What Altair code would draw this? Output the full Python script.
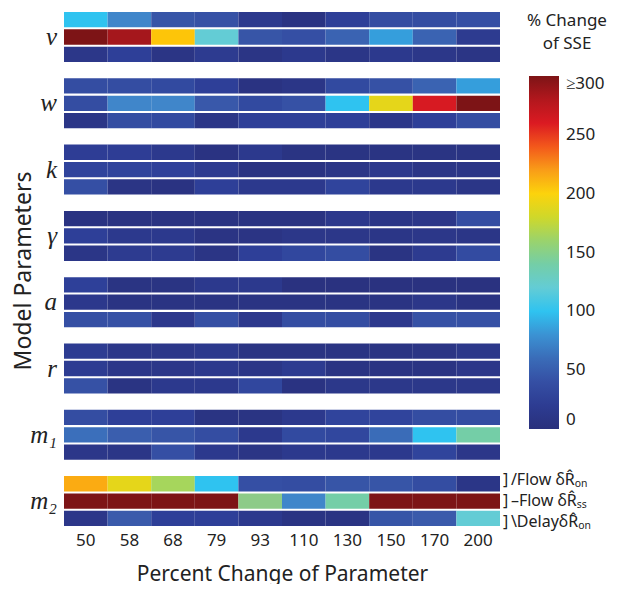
import altair as alt
import pandas as pd

params = ["v", "w", "k", "γ", "a", "r", "m₁", "m₂"]
pct_labels = ["50", "58", "68", "79", "93", "110", "130", "150", "170", "200"]
row_keys = ["r0", "r1", "r2"]
annotations = ["]\u2009/Flow  δR̂ₒₙ", "]\u2009–Flow  δR̂ₛₛ", "]\u2009\\DelayδR̂ₒₙ"]

# % change of SSE, rows: Flow dR_on, Flow dR_ss, Delay dR_on
v_vals = [[100, 75, 45, 42, 15, 5, 25, 38, 38, 40],
          [300, 285, 205, 120, 45, 40, 55, 85, 55, 18],
          [12, 25, 8, 18, 8, 15, 10, 15, 12, 8]]
w_vals = [[38, 38, 35, 25, 5, 10, 35, 42, 55, 85],
          [38, 75, 75, 48, 35, 42, 100, 190, 262, 300],
          [10, 38, 35, 10, 25, 25, 25, 12, 25, 38]]
k_vals = [[22, 22, 15, 5, 15, 6, 6, 6, 6, 6],
          [30, 30, 27, 18, 5, 5, 10, 15, 10, 10],
          [40, 8, 5, 25, 15, 15, 30, 15, 15, 10]]
g_vals = [[5, 5, 5, 5, 5, 5, 14, 10, 12, 38],
          [25, 15, 15, 7, 7, 12, 12, 10, 12, 10],
          [10, 18, 18, 8, 25, 32, 38, 6, 18, 36]]
a_vals = [[26, 6, 6, 15, 15, 4, 4, 4, 4, 4],
          [14, 6, 6, 6, 6, 6, 6, 6, 12, 5],
          [40, 42, 14, 40, 14, 38, 38, 14, 42, 42]]
r_vals = [[20, 12, 12, 15, 6, 6, 6, 6, 8, 13],
          [20, 12, 12, 15, 10, 18, 6, 6, 6, 12],
          [42, 6, 15, 15, 32, 5, 13, 13, 13, 13]]
m1_vals = [[38, 25, 25, 6, 6, 15, 30, 30, 38, 38],
           [62, 52, 45, 38, 15, 35, 32, 60, 100, 140],
           [12, 10, 40, 15, 8, 15, 15, 15, 30, 12]]
m2_vals = [[215, 190, 165, 100, 40, 38, 45, 45, 38, 10],
           [300, 300, 300, 300, 150, 75, 140, 300, 300, 300],
           [12, 50, 25, 25, 15, 6, 6, 45, 50, 120]]

all_vals = [v_vals, w_vals, k_vals, g_vals, a_vals, r_vals, m1_vals, m2_vals]

records = []
for p, block in zip(params, all_vals):
    for ri, rk in enumerate(row_keys):
        for ci, c in enumerate(pct_labels):
            records.append({"param": p, "row": rk, "pct": c, "value": block[ri][ci],
                            "ann": annotations[ri]})
df = pd.DataFrame(records)

color_domain = [0, 25, 50, 75, 100, 125, 150, 175, 200, 225, 250, 275, 300]
color_range = ["#29307c", "#2e3f98", "#3a5aab", "#4086ca", "#2fc3f0", "#6fcdd0",
               "#8dcb88", "#c4d932", "#fcd30c", "#f6901e", "#ed1c24", "#c0181f", "#7d1416"]

FONT = "Noto Sans"
W, H = 436, 50
ysort = alt.Y("row:O", sort=row_keys)

heat = alt.Chart().mark_rect().encode(
    x=alt.X("pct:O", sort=pct_labels,
            scale=alt.Scale(paddingInner=0, paddingOuter=0),
            axis=alt.Axis(title="Percent Change of Parameter", labelAngle=0,
                          labelFontSize=17, titleFontSize=21, labelFont=FONT,
                          titleFont=FONT, titleFontWeight="normal", ticks=False,
                          domain=False, labelPadding=5, titlePadding=15,
                          labelColor="#222", titleColor="#222")),
    y=alt.Y("row:O", sort=row_keys, axis=None,
            scale=alt.Scale(paddingInner=0.12, paddingOuter=0)),
    color=alt.Color("value:Q",
                    scale=alt.Scale(domain=color_domain, range=color_range, clamp=True),
                    legend=alt.Legend(title=["% Change", "of SSE"], orient="none",
                                      legendX=463, legendY=1, direction="vertical",
                                      gradientLength=353, gradientThickness=30,
                                      values=[0, 50, 100, 150, 200, 250, 300],
                                      labelExpr="datum.value >= 300 ? '≥300' : datum.label",
                                      labelBaseline="middle",
                                      labelFontSize=17, titleFontSize=17, labelFont=FONT,
                                      titleFont=FONT, titleFontWeight="normal",
                                      titleAlign="center", titleAnchor="middle",
                                      titleLineHeight=23, titlePadding=23, labelOffset=7,
                                      labelColor="#222", titleColor="#222")),
).properties(width=W, height=H)

# parameter names left of each panel
plabel = alt.Chart().transform_filter(
    "datum.pct == '50' && datum.row == 'r1'"
).mark_text(align="right", baseline="middle", fontSize=25, font="Liberation Serif",
            fontStyle="italic", color="#222").encode(
    y=ysort, x=alt.value(-7), text="param:N")

ann_layers = []
for rk, dy in zip(row_keys, [-4, 0, 4]):
    ann_layers.append(
        alt.Chart().transform_filter(
            f"datum.param == 'm₂' && datum.pct == '200' && datum.row == '{rk}'"
        ).mark_text(align="left", baseline="middle", fontSize=16, dy=dy,
                    font=FONT, color="#222").encode(
            y=ysort, x=alt.value(W + 3), text="ann:N")
    )

chart = alt.layer(heat, plabel, *ann_layers, data=df).facet(
    row=alt.Row("param:N", sort=params,
                header=alt.Header(labels=False,
                                  title="Model Parameters", titleFont=FONT,
                                  titleFontSize=23, titleFontWeight="normal",
                                  titleColor="#222", titlePadding=18)),
    spacing=16.3,
    bounds="flush",
).properties(
    padding={"left": 4, "top": 4, "right": 0, "bottom": 0}
).configure_view(stroke=None)

chart.save("out.html", embed_options={"renderer": "svg", "actions": False})
